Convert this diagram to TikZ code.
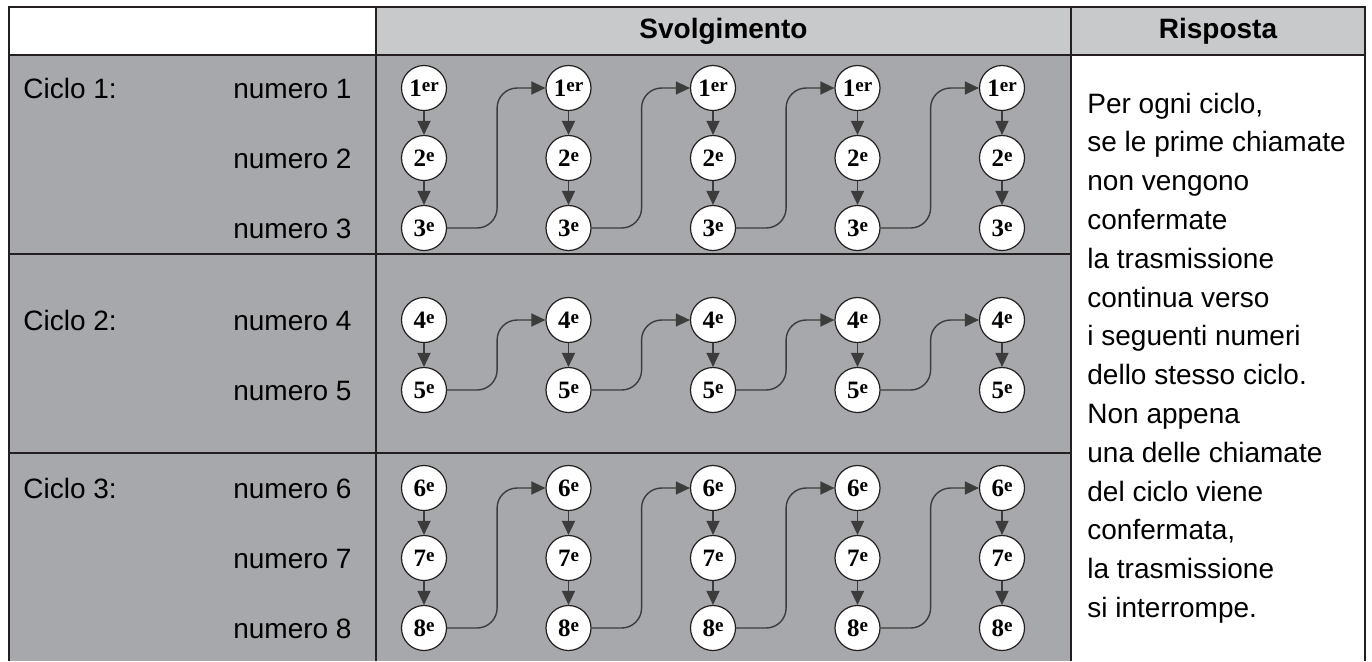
\documentclass[tikz,border=0pt]{standalone}
\usepackage{fontspec}
\setmainfont{Liberation Sans}
\newfontfamily\ordfont{Liberation Serif}
\usetikzlibrary{arrows.meta}

\definecolor{bodygrey}{HTML}{A7A8AB}
\definecolor{headgrey}{HTML}{C8C9CB}
\definecolor{rulecol}{HTML}{231F20}
\definecolor{wirecol}{HTML}{3C3C3C}

\newcommand{\ordlab}[2]{{\ordfont\bfseries\fontsize{12.5}{13}\selectfont #1\raisebox{2.4pt}{\fontsize{9.5}{10}\selectfont #2}}}

\tikzset{
  callnode/.style={circle, draw=rulecol, fill=white, line width=0.6pt, minimum size=22.5pt, inner sep=0pt},
  nextcall/.style={draw=wirecol, line width=0.7pt, -{Triangle[length=7pt,width=6.5pt]}},
  jumpcall/.style={nextcall, rounded corners=10pt},
  gridline/.style={draw=rulecol, line width=1pt},
  txt/.style={font=\fontsize{14}{16}\selectfont, inner sep=0pt},
}

\begin{document}
\begin{tikzpicture}[x=0.5pt,y=-0.5pt]
    \useasboundingbox (0,0) rectangle (1372,661);
    % fondi
    \fill[headgrey] (376,7) rectangle (1365,55);
    \fill[bodygrey] (9,55) rectangle (1071,661);
    % griglia
    \draw[gridline] (9,661) -- (9,7) -- (1365,7) -- (1365,661);
    \draw[gridline] (376,7) -- (376,661);
    \draw[gridline] (1071,7) -- (1071,661);
    \draw[gridline] (9,55) -- (1365,55);
    \draw[gridline] (9,254) -- (1071,254);
    \draw[gridline] (9,453) -- (1071,453);
    % intestazione
    \node[txt, anchor=base] (svolg) at (723.5,38) {\bfseries Svolgimento};
    \node[txt, anchor=base] (risp) at (1218,38) {\bfseries Risposta};
    % cicli
    \node[txt, anchor=base west] (ciclo1) at (23,98) {Ciclo 1:};
    \node[txt, anchor=base west] (ciclo2) at (23,330) {Ciclo 2:};
    \node[txt, anchor=base west] (ciclo3) at (23,498) {Ciclo 3:};
    % numeri e chiamate
    \foreach \k/\y/\s in {1/88/er,2/158/e,3/228/e,4/320/e,5/390/e,6/488/e,7/558/e,8/628/e}{
      \node[txt, anchor=base east] (num\k) at (352,\y+10) {numero \k};
      \foreach \c in {0,...,4}
        \node[callnode] (n\c-\k) at (424+144.5*\c,\y) {\ordlab{\k}{\s}};
    }
    \foreach \c in {0,...,4}
      \foreach \a/\b in {1/2,2/3,4/5,6/7,7/8}
        \draw[nextcall] (n\c-\a) -- (n\c-\b);
    \foreach \c [evaluate=\c as \d using int(\c+1)] in {0,...,3}
      \foreach \a/\b in {3/1,5/4,8/6}
        \draw[jumpcall] (n\c-\a.east) -- ++(50,0) |- (n\d-\b.west);
    % risposta
    \foreach \t [count=\i] in {{Per ogni ciclo,},{se le prime chiamate},{non vengono},{confermate},{la trasmissione},{continua verso},{i seguenti numeri},{dello stesso ciclo.},{Non appena},{una delle chiamate},{del ciclo viene},{confermata,},{la trasmissione},{si interrompe.}}
      \node[txt, anchor=base west] (r\i) at (1087,113+38.8*\i-38.8) {\t};
\end{tikzpicture}
\end{document}
